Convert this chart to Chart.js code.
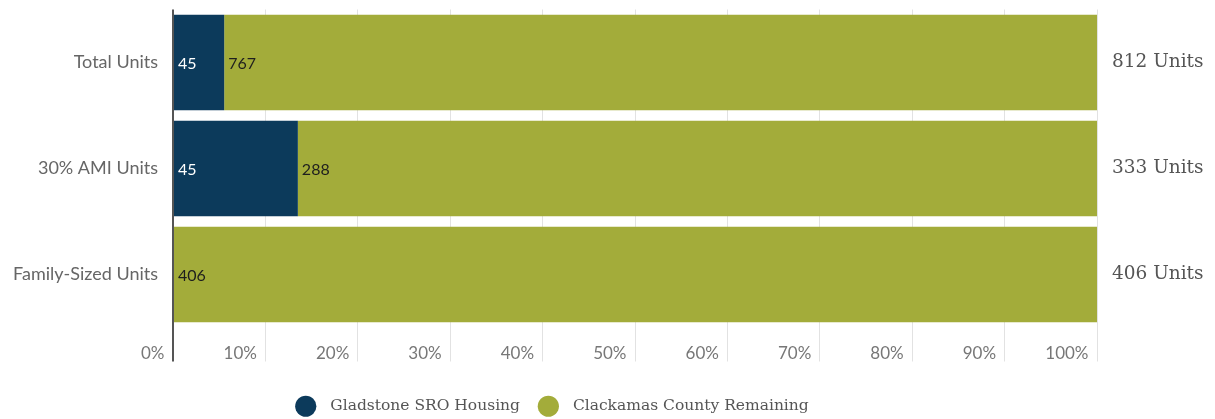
<!DOCTYPE html>
<html>
<head>
<meta charset="utf-8">
<script src="https://cdn.jsdelivr.net/npm/chart.js@4.4.0/dist/chart.umd.min.js"></script>
<style>
html,body{margin:0;padding:0;background:#fff;}
#wrap{width:1215px;height:419px;position:relative;}
</style>
</head>
<body>
<div id="wrap"><canvas id="c" width="1215" height="419"></canvas></div>
<script>
const categories = ['Total Units', '30% AMI Units', 'Family-Sized Units'];
const sroUnits = [45, 45, 0];
const remainingUnits = [767, 288, 406];
const totalLabels = ['812 Units', '333 Units', '406 Units'];
const seriesNames = ['Gladstone SRO Housing', 'Clackamas County Remaining'];
const xTicks = [0, 10, 20, 30, 40, 50, 60, 70, 80, 90, 100];

const totals = sroUnits.map((v, i) => v + remainingUnits[i]);
const sroPct = sroUnits.map((v, i) => v / totals[i] * 100);
const remPct = remainingUnits.map((v, i) => v / totals[i] * 100);
const rawCounts = [sroUnits, remainingUnits];

const NAVY = '#0c3a5b';
const OLIVE = '#a3ac3a';
const SANS = 'Lato, "Open Sans", sans-serif';
const SERIF = '"DejaVu Serif", "Liberation Serif", serif';

const barLabels = {
  id: 'barLabels',
  afterDatasetsDraw(chart) {
    const ctx = chart.ctx;
    ctx.save();
    ctx.font = '16px ' + SANS;
    ctx.textBaseline = 'middle';
    ctx.textAlign = 'left';
    chart.data.datasets.forEach((ds, di) => {
      const meta = chart.getDatasetMeta(di);
      meta.data.forEach((el, i) => {
        const v = rawCounts[di][i];
        if (!v) return;
        ctx.fillStyle = di === 0 ? '#ffffff' : '#1e1e1e';
        const start = Math.min(el.x, el.base);
        ctx.fillText(String(v), start + 4, el.y + 1);
      });
    });
    ctx.restore();
  }
};

// nudge the legend box (left of centre and slightly down, as in the reference)
const legendNudge = {
  id: 'legendNudge',
  afterLayout(chart) {
    const lg = chart.legend;
    if (!lg) return;
    lg.left -= 54; lg.right -= 54;
    lg.top += 5; lg.bottom += 5;
  }
};

const noPad = s => { s.paddingTop = 0; s.paddingBottom = 0; };

new Chart(document.getElementById('c'), {
  type: 'bar',
  data: {
    labels: categories,
    datasets: [
      { label: seriesNames[0], data: sroPct, backgroundColor: NAVY, borderWidth: 0, barPercentage: 0.9, categoryPercentage: 1.0 },
      { label: seriesNames[1], data: remPct, backgroundColor: OLIVE, borderWidth: 0, barPercentage: 0.9, categoryPercentage: 1.0 }
    ]
  },
  options: {
    indexAxis: 'y',
    responsive: false,
    animation: false,
    layout: { padding: { top: 9.5, left: 0, right: 0, bottom: 0 } },
    plugins: {
      tooltip: { enabled: false },
      legend: {
        position: 'bottom',
        labels: {
          usePointStyle: true,
          pointStyle: 'circle',
          boxWidth: 15,
          boxHeight: 15,
          padding: 10,
          color: '#555',
          font: { family: SERIF, size: 15.5 },
          generateLabels(chart) {
            const items = Chart.defaults.plugins.legend.labels.generateLabels(chart);
            return items.map((it, i) => Object.assign(it, {
              text: '\u2002\u200A' + it.text + (i < items.length - 1 ? '\u2002\u2009' : '')
            }));
          }
        }
      }
    },
    scales: {
      x: {
        stacked: true,
        min: 0,
        max: 100,
        afterBuildTicks(scale) { scale.ticks = xTicks.map(v => ({ value: v })); },
        afterFit(scale) { scale.height = 56; },
        border: { display: false },
        grid: {
          color: ctx => ctx.index === 0 ? '#555555' : '#e2e2e2',
          lineWidth: ctx => ctx.index === 0 ? 2 : 1,
          tickLength: 34,
          drawTicks: true
        },
        ticks: {
          align: 'end',
          padding: -18,
          color: '#777',
          font: { family: SANS, size: 17 },
          callback: v => v + '%\u2002'
        }
      },
      y: {
        stacked: true,
        position: 'left',
        afterFit(scale) { scale.width = 173; noPad(scale); },
        border: { display: false },
        grid: { display: false },
        ticks: {
          color: '#666',
          padding: 7,
          font: { family: SANS, size: 18 }
        }
      },
      y2: {
        type: 'category',
        labels: totalLabels,
        position: 'right',
        offset: true,
        afterFit(scale) { scale.width = 118; noPad(scale); },
        border: { display: false },
        grid: { display: false },
        ticks: {
          color: '#555',
          padding: 7,
          font: { family: SERIF, size: 18.5 }
        }
      }
    }
  },
  plugins: [barLabels, legendNudge]
});
</script>
</body>
</html>
